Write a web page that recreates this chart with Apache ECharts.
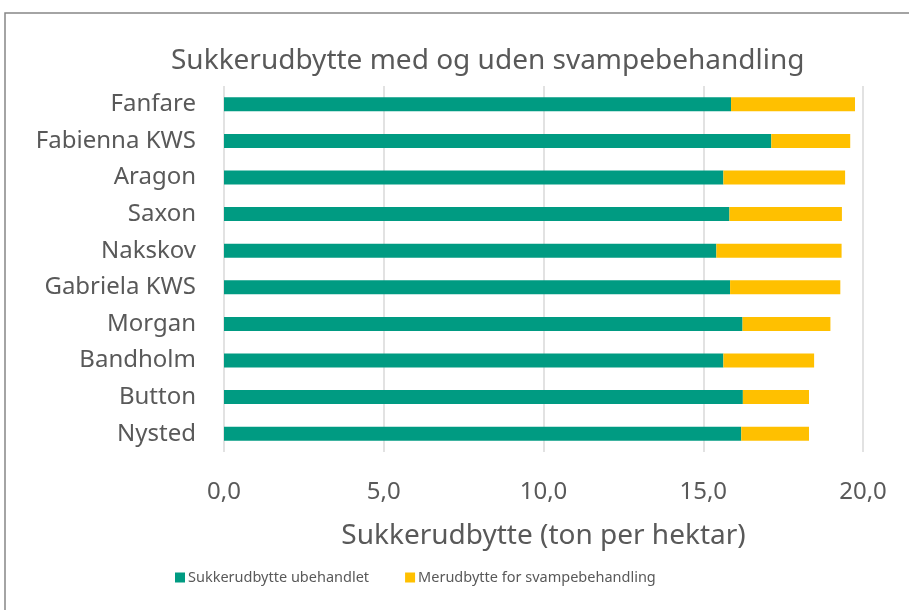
<!DOCTYPE HTML>
<html>
<head>
<meta charset="utf-8">
<title>Sukkerudbytte med og uden svampebehandling</title>
<script src="https://cdn.jsdelivr.net/npm/echarts@6/dist/echarts.min.js"></script>
<style>
    html, body { margin: 0; padding: 0; background: #fff; }
    #graphic { width: 909px; height: 610px; }
</style>
</head>
<body>
<div id="graphic"></div>
<script type="text/javascript">
// sorter (bottom to top as in the chart)
var sorter = ['Nysted', 'Button', 'Bandholm', 'Morgan', 'Gabriela KWS', 'Nakskov', 'Saxon', 'Aragon', 'Fabienna KWS', 'Fanfare'];
// ton per hektar
var ubehandlet = [16.19, 16.24, 15.63, 16.23, 15.84, 15.41, 15.82, 15.63, 17.13, 15.87];
var merudbytte = [2.12, 2.07, 2.84, 2.75, 3.45, 3.92, 3.52, 3.81, 2.47, 3.88];

var font = 'Noto Sans';
var grey = '#595959';

var option = {
    animation: false,
    graphic: [{
        type: 'rect',
        shape: { x: 5, y: 13, width: 920, height: 620 },
        style: { fill: 'none', stroke: '#868686', lineWidth: 1.5 }
    }],
    title: {
        text: 'Sukkerudbytte med og uden svampebehandling',
        left: 166,
        top: 42,
        textStyle: { fontFamily: font, fontSize: 28, fontWeight: 'normal', color: grey }
    },
    legend: {
        top: 565,
        left: 170,
        itemGap: 36,
        itemWidth: 10,
        itemHeight: 10,
        icon: 'rect',
        textStyle: { fontFamily: font, fontSize: 14.5, color: grey, padding: [0, 0, 0, -2] },
        data: ['Sukkerudbytte ubehandlet', 'Merudbytte for svampebehandling']
    },
    grid: { left: 224, right: 46, top: 86, bottom: 158 },
    xAxis: {
        type: 'value',
        min: 0,
        max: 20,
        interval: 5,
        name: 'Sukkerudbytte (ton per hektar)',
        nameLocation: 'middle',
        nameGap: 70,
        nameTextStyle: { fontFamily: font, fontSize: 28, color: grey },
        axisLabel: {
            fontFamily: font, fontSize: 24, color: grey, margin: 28,
            formatter: function (v) { return v.toFixed(1).replace('.', ','); }
        },
        axisLine: { show: false },
        axisTick: { show: false },
        splitLine: { lineStyle: { color: '#d9d9d9', width: 1.5 } }
    },
    yAxis: {
        type: 'category',
        data: sorter,
        axisLabel: { fontFamily: font, fontSize: 24, color: grey, margin: 28 },
        axisLine: { show: false },
        axisTick: { show: false }
    },
    series: [{
        name: 'Sukkerudbytte ubehandlet',
        type: 'bar',
        stack: 'total',
        barWidth: 14,
        itemStyle: { color: '#009B82' },
        data: ubehandlet
    }, {
        name: 'Merudbytte for svampebehandling',
        type: 'bar',
        stack: 'total',
        barWidth: 14,
        itemStyle: { color: '#FFC000' },
        data: merudbytte
    }]
};

var myChart = echarts.init(document.getElementById('graphic'));
myChart.setOption(option);
</script>
</body>
</html>
